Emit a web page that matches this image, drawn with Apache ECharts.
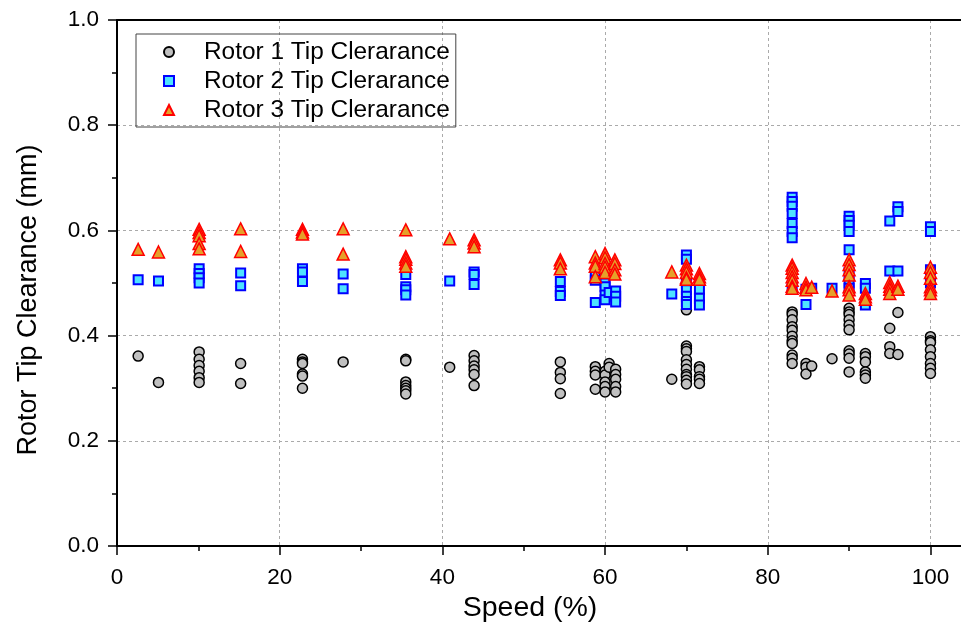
<!DOCTYPE html>
<html><head><meta charset="utf-8">
<script src="https://cdn.jsdelivr.net/npm/echarts@6/dist/echarts.min.js"></script>
<style>html,body{margin:0;padding:0;background:#fff}#c{width:961px;height:625px}</style>
</head><body><div id="c"></div>
<script>
// Axis ticks
var xTicks = [0, 20, 40, 60, 80, 100];
var yTicks = [0.0, 0.2, 0.4, 0.6, 0.8, 1.0];
var seriesNames = ['Rotor 1 Tip Clerarance', 'Rotor 2 Tip Clerarance', 'Rotor 3 Tip Clerarance'];

// Rotor 1 (speed %, clearance mm)
var r1Speed = [2.6, 5.1,
  10.1,10.1,10.1,10.1,10.1,10.1, 15.2,15.2,
  22.8,22.8,22.8,22.8,22.8,22.8, 27.8,
  35.5,35.5,35.5,35.5,35.5,35.5,35.5, 40.9,
  43.9,43.9,43.9,43.9,43.9,43.9,
  54.5,54.5,54.5,54.5, 58.8,58.8,58.8,58.8,
  60.0,60.0,60.0,60.0,60.0, 60.5,60.5, 61.3,61.3,61.3,61.3,61.3,
  68.2, 70.0,70.0,70.0,70.0,70.0,70.0,70.0,70.0,70.0,70.0,70.0,
  71.6,71.6,71.6,71.6,71.6,
  83.0,83.0,83.0,83.0,83.0,83.0,83.0,83.0,83.0,83.0,83.0,
  84.7,84.7,84.7, 85.4, 87.9,
  90.0,90.0,90.0,90.0,90.0,90.0,90.0,90.0,90.0,90.0,
  92.0,92.0,92.0,92.0,92.0,92.0, 95.0,95.0,95.0, 96.0,96.0,
  100,100,100,100,100,100,100,100];
var r1Clear = [0.361, 0.311,
  0.369,0.355,0.343,0.332,0.320,0.311, 0.347,0.309,
  0.355,0.350,0.347,0.327,0.323,0.300, 0.350,
  0.355,0.352,0.312,0.305,0.300,0.295,0.289, 0.340,
  0.362,0.352,0.342,0.335,0.326,0.305,
  0.350,0.330,0.318,0.290, 0.341,0.332,0.325,0.298,
  0.332,0.325,0.312,0.303,0.293, 0.347,0.340, 0.336,0.326,0.317,0.303,0.293,
  0.317, 0.449,0.380,0.375,0.370,0.354,0.345,0.336,0.326,0.322,0.315,0.308,
  0.341,0.335,0.322,0.317,0.309,
  0.445,0.440,0.430,0.417,0.410,0.399,0.390,0.385,0.363,0.357,0.347,
  0.347,0.340,0.327, 0.342, 0.356,
  0.452,0.445,0.440,0.430,0.420,0.411,0.371,0.365,0.357,0.331,
  0.366,0.360,0.350,0.331,0.325,0.319, 0.414,0.379,0.366, 0.444,0.364,
  0.398,0.390,0.387,0.373,0.360,0.347,0.338,0.328];

// Rotor 2
var r2Speed = [2.6, 5.1, 10.1,10.1,10.1,10.1, 15.2,15.2, 22.8,22.8,22.8, 27.8,27.8,
  35.5,35.5,35.5,35.5, 40.9, 43.9,43.9,43.9, 54.5,54.5,54.5,
  58.8,58.8,58.8, 60.0,60.0,60.0,60.0, 60.5, 61.3,61.3,61.3, 68.2,
  70.0,70.0,70.0,70.0,70.0,70.0,70.0, 71.6,71.6,71.6,
  83.0,83.0,83.0,83.0,83.0,83.0,83.0,83.0, 84.7,84.7, 85.4, 87.9,
  90.0,90.0,90.0,90.0,90.0,90.0,90.0,90.0, 92.0,92.0,92.0,
  95.0,95.0, 96.0,96.0,96.0, 100,100,100,100];
var r2Clear = [0.506, 0.504, 0.527,0.518,0.510,0.500, 0.519,0.495, 0.527,0.521,0.503, 0.517,0.489,
  0.516,0.493,0.487,0.477, 0.504, 0.521,0.516,0.497, 0.503,0.484,0.476,
  0.515,0.505,0.463, 0.500,0.493,0.477,0.468, 0.482, 0.485,0.475,0.464, 0.479,
  0.553,0.545,0.500,0.487,0.475,0.465,0.459, 0.488,0.471,0.458,
  0.663,0.655,0.646,0.632,0.613,0.598,0.586,0.490, 0.488,0.459, 0.490, 0.490,
  0.627,0.619,0.610,0.598,0.563,0.520,0.500,0.490, 0.499,0.490,0.458,
  0.618,0.523, 0.645,0.636,0.523, 0.607,0.598,0.525,0.500];

// Rotor 3
var r3Speed = [2.6, 5.1, 10.1,10.1,10.1,10.1,10.1, 15.2,15.2, 22.8,22.8,22.8, 27.8,27.8,
  35.5,35.5,35.5,35.5,35.5, 40.9, 43.9,43.9,43.9, 54.5,54.5,54.5,
  58.8,58.8,58.8,58.8, 60.0,60.0,60.0,60.0,60.0, 61.2,61.2,61.2,61.2, 68.2,
  70.0,70.0,70.0,70.0,70.0, 71.6,71.6,71.6,
  83.0,83.0,83.0,83.0,83.0,83.0,83.0, 84.7,84.7,84.7, 85.4, 87.9,
  90.0,90.0,90.0,90.0,90.0,90.0,90.0, 92.0,92.0,92.0,
  95.0,95.0,95.0,95.0, 96.0,96.0, 100,100,100,100,100,100];
var r3Clear = [0.564, 0.559, 0.602,0.596,0.590,0.575,0.565, 0.603,0.560, 0.602,0.597,0.593, 0.603,0.555,
  0.601,0.550,0.545,0.538,0.532, 0.584, 0.582,0.576,0.569, 0.544,0.538,0.527,
  0.550,0.538,0.532,0.512, 0.556,0.548,0.537,0.530,0.520, 0.544,0.537,0.525,0.517, 0.521,
  0.534,0.527,0.520,0.510,0.507, 0.518,0.512,0.507,
  0.534,0.528,0.520,0.512,0.505,0.494,0.490, 0.499,0.492,0.487, 0.492, 0.485,
  0.544,0.535,0.525,0.515,0.493,0.487,0.477, 0.480,0.474,0.469,
  0.501,0.494,0.488,0.480, 0.494,0.488, 0.530,0.520,0.509,0.493,0.487,0.480];

function pairs(xs, ys) { return xs.map(function (x, i) { return [x, ys[i]]; }); }

var FONT = 'Liberation Sans, Arial, sans-serif';
var chart = echarts.init(document.getElementById('c'), null, { renderer: 'canvas' });
var xMin = xTicks[0], xStep = xTicks[1] - xTicks[0];
var yMin = yTicks[0], yStep = yTicks[1] - yTicks[0], yMax = yTicks[yTicks.length - 1];

chart.setOption({
  animation: false,
  backgroundColor: '#fff',
  grid: { left: 117, top: 20, width: 846, height: 526, outerBoundsMode: 'none', containLabel: false },
  legend: {
    left: 136, top: 34, orient: 'vertical',
    borderColor: '#444', borderWidth: 1,
    padding: [6, 6, 5, 27],
    itemWidth: 10, itemHeight: 10, itemGap: 5,
    textStyle: { fontFamily: FONT, fontSize: 24.4, color: '#000', padding: [0, 0, 0, 25] },
    data: seriesNames
  },
  xAxis: [{
    type: 'value', min: xMin, max: 104, interval: xStep,
    name: 'Speed (%)', nameLocation: 'middle', nameGap: 46,
    nameTextStyle: { fontFamily: FONT, fontSize: 28.5, color: '#000', padding: [0, 20, 0, 0] },
    axisLine: { show: true, onZero: false, lineStyle: { color: '#000', width: 2 } },
    axisTick: { show: true, length: 9, lineStyle: { color: '#000', width: 1.5 } },
    minorTick: { show: true, splitNumber: 2, length: 5, lineStyle: { color: '#000', width: 1.5 } },
    axisLabel: { fontFamily: FONT, fontSize: 22.5, color: '#000', margin: 20, showMaxLabel: false },
    splitLine: { show: true, lineStyle: { color: '#aaa', type: [3, 3], width: 1 } }
  }, {
    type: 'value', position: 'top', min: xMin, max: 104,
    axisLine: { show: true, onZero: false, lineStyle: { color: '#000', width: 2 } },
    axisTick: { show: false }, axisLabel: { show: false }, splitLine: { show: false }
  }],
  yAxis: {
    type: 'value', min: yMin, max: yMax, interval: yStep,
    name: 'Rotor Tip Clearance (mm)', nameLocation: 'middle', nameGap: 75,
    nameTextStyle: { fontFamily: FONT, fontSize: 27, color: '#000', padding: [0, 34, 0, 0] },
    axisLine: { show: true, onZero: false, lineStyle: { color: '#000', width: 2 } },
    axisTick: { show: true, length: 9, lineStyle: { color: '#000', width: 1.5 } },
    minorTick: { show: true, splitNumber: 2, length: 5, lineStyle: { color: '#000', width: 1.5 } },
    axisLabel: { fontFamily: FONT, fontSize: 22.5, color: '#000', margin: 18,
      formatter: function (v) { return v.toFixed(1); } },
    splitLine: { show: true, lineStyle: { color: '#aaa', type: [3, 3], width: 1 } }
  },
  series: [{
    name: seriesNames[0], type: 'scatter', symbol: 'circle', symbolSize: 10,
    itemStyle: { color: '#c0c0c0', borderColor: '#000', borderWidth: 1.5, opacity: 1 },
    data: pairs(r1Speed, r1Clear)
  }, {
    name: seriesNames[1], type: 'scatter', symbol: 'rect', symbolSize: 9,
    itemStyle: { color: '#4fe3ff', borderColor: '#0000ff', borderWidth: 2, opacity: 1 },
    data: pairs(r2Speed, r2Clear)
  }, {
    name: seriesNames[2], type: 'scatter', symbol: 'triangle', symbolSize: 12,
    itemStyle: { color: '#e5a02a', borderColor: '#ff0000', borderWidth: 1.5, opacity: 1 },
    data: pairs(r3Speed, r3Clear)
  }]
});
</script></body></html>
